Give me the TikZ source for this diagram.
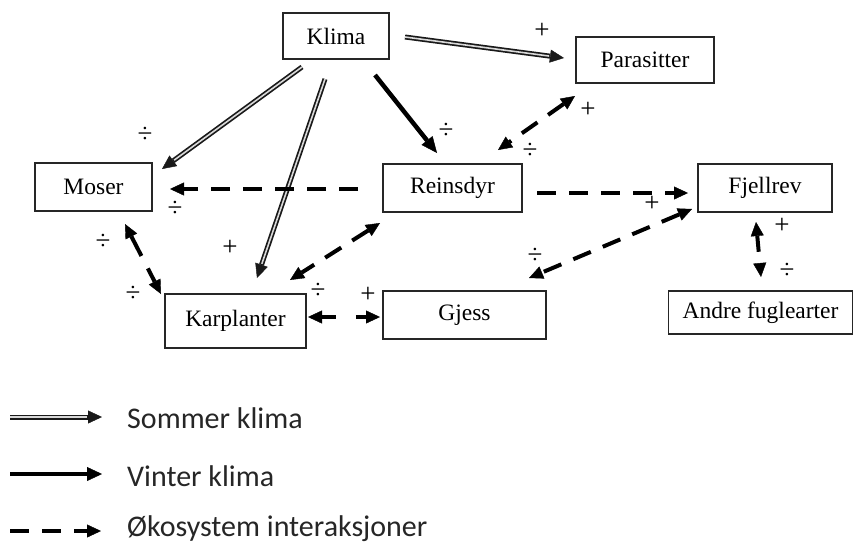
\documentclass[tikz,border=0pt]{standalone}
\usepackage{fontspec}
\setmainfont{Liberation Serif}
\newfontfamily\legfont{Carlito}
\usetikzlibrary{arrows.meta}
\tikzset{
  box/.style={draw=black!85, line width=1.1pt, inner sep=0pt, font=\fontsize{23.5}{25}\selectfont},
  sign/.style={inner sep=0pt, font=\fontsize{27}{28}\selectfont},
  tipA/.tip={Triangle[length=14pt,width=13pt,line width=0.4pt]},
  sumouter/.style={draw=black!90, line width=5pt, -tipA},
  suminner/.style={draw=white!85!black, line width=1.6pt, shorten >=15pt},
  winter/.style={draw=black, line width=4.5pt, -{Triangle[length=16pt,width=14pt,line width=0.4pt]}},
  eco/.style={draw=black, line width=4pt, dash pattern=on 19pt off 13pt, -tipA},
  ecob/.style={draw=black, line width=4pt, dash pattern=on 19pt off 13pt, tipA-tipA},
  legtext/.style={anchor=base west, inner sep=0pt, text=black!85, font=\legfont\fontsize{30}{32}\selectfont}
}
\newcommand{\summerarr}[2]{\draw[sumouter] (#1) -- (#2); \draw[suminner] (#1) -- (#2);}
\begin{document}
\begin{tikzpicture}[x=1pt,y=-1pt]
\useasboundingbox (0,0) rectangle (854,544);
% boxes
\node[box, minimum width=106pt, minimum height=46pt] (klima) at (336,36) {Klima};
\node[box, minimum width=138pt, minimum height=46pt] (para) at (645,60) {Parasitter};
\node[box, minimum width=117pt, minimum height=48pt] (moser) at (93.5,187) {Moser};
\node[box, minimum width=139pt, minimum height=48pt] (rein) at (452.5,188) {Reinsdyr};
\node[box, minimum width=134pt, minimum height=48pt] (fjell) at (765,188) {Fjellrev};
\node[box, minimum width=141pt, minimum height=54pt] (karp) at (235.5,321) {Karplanter};
\node[box, minimum width=163pt, minimum height=48pt] (gjess) at (464.5,315) {Gjess};
\node[box, minimum width=184pt, minimum height=43pt] (andre) at (760.5,312.5) {Andre fuglearter};
% connector end points
\coordinate (kP) at (405,37);  \coordinate (pK) at (564,58);
\coordinate (kM) at (302,67);  \coordinate (mK) at (162,169);
\coordinate (kKa) at (325,79); \coordinate (kaK) at (257,278);
\coordinate (kR) at (375,75);  \coordinate (rK) at (437,153);
\coordinate (rM) at (358,189); \coordinate (mR) at (170,189);
\coordinate (pR) at (575,96);  \coordinate (rP) at (498,150);
\coordinate (rF) at (537,193); \coordinate (fR) at (688,193);
\coordinate (rKa) at (380,223); \coordinate (kaR) at (290,280);
\coordinate (mKa) at (125,224); \coordinate (kaM) at (161,294);
\coordinate (kaG) at (308,317); \coordinate (gKa) at (380,317);
\coordinate (fG) at (692,209); \coordinate (gF) at (529,278);
\coordinate (fA) at (756,222); \coordinate (aF) at (761,277);
% connectors
\summerarr{kP}{pK}
\summerarr{kM}{mK}
\summerarr{kKa}{kaK}
\draw[winter] (kR) -- (rK);
\draw[eco] (rM) -- (mR);
\draw[ecob] (pR) -- (rP);
\draw[eco] (rF) -- (fR);
\draw[ecob] (rKa) -- (kaR);
\draw[ecob, dash pattern=on 22pt off 14pt] (mKa) -- (kaM);
\draw[ecob, dash pattern=on 14pt off 20pt] (kaG) -- (gKa);
\draw[ecob] (fG) -- (gF);
\draw[ecob, dash pattern=on 16pt off 15pt] (fA) -- (aF);
% signs
\node[sign] (s1) at (542,31) {+};
\node[sign] (s2) at (446,131) {÷};
\node[sign] (s3) at (588,110) {+};
\node[sign] (s4) at (530,151) {÷};
\node[sign] (s5) at (145,135) {÷};
\node[sign] (s6) at (175,209) {÷};
\node[sign] (s7) at (103,242) {÷};
\node[sign] (s8) at (230,248) {+};
\node[sign] (s9) at (133,294) {÷};
\node[sign] (s10) at (318,291) {÷};
\node[sign] (s11) at (368,295) {+};
\node[sign] (s12) at (535,256) {÷};
\node[sign] (s13) at (652,204) {+};
\node[sign] (s14) at (782,226) {+};
\node[sign] (s15) at (787,271) {÷};
% legend
\coordinate (l1a) at (10,417); \coordinate (l1b) at (102,417);
\coordinate (l2a) at (10,474); \coordinate (l2b) at (102,474);
\coordinate (l3a) at (10,531); \coordinate (l3b) at (101,531);
\summerarr{l1a}{l1b}
\draw[winter, -{Triangle[length=15pt,width=14pt,line width=0.4pt]}] (l2a) -- (l2b);
\draw[eco, dash pattern=on 19pt off 13pt] (l3a) -- (l3b);
\node[legtext] (t1) at (127,428) {Sommer klima};
\node[legtext] (t2) at (127,486) {Vinter klima};
\node[legtext] (t3) at (127,536) {Økosystem interaksjoner};
\end{tikzpicture}
\end{document}
